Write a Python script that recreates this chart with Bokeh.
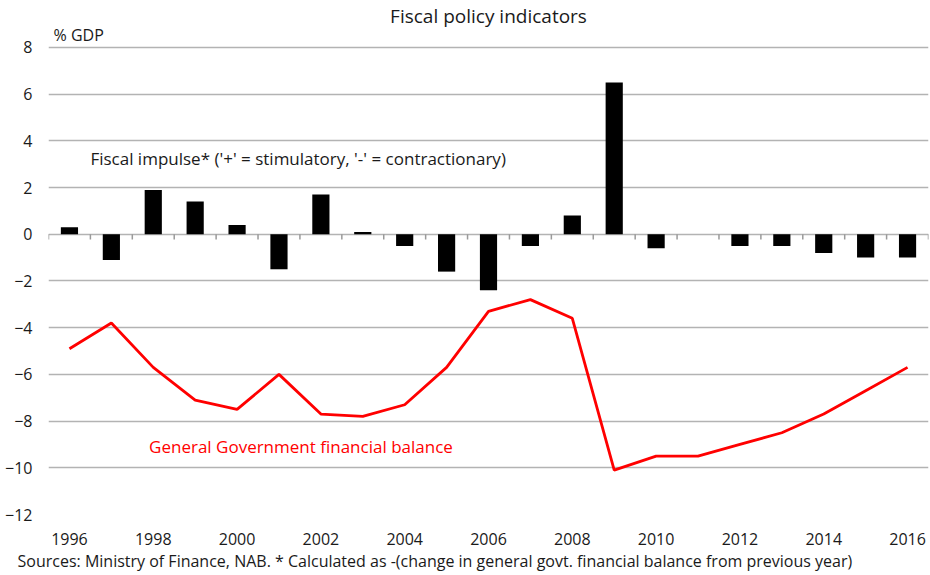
from bokeh.plotting import figure
from bokeh.models import Label, Title, FixedTicker, ColumnDataSource
from bokeh.embed import file_html
from bokeh.resources import INLINE

years = list(range(1996, 2017))
fiscal_impulse = [0.3, -1.1, 1.9, 1.4, 0.4, -1.5, 1.7, 0.1, -0.5, -1.6, -2.4,
                  -0.5, 0.8, 6.5, -0.6, 0.0, -0.5, -0.5, -0.8, -1.0, -1.0]
gov_balance = [-4.9, -3.8, -5.7, -7.1, -7.5, -6.0, -7.7, -7.8, -7.3, -5.7, -3.3,
               -2.8, -3.6, -10.1, -9.5, -9.5, -9.0, -8.5, -7.7, -6.7, -5.7]
x_tick_years = list(range(1996, 2017, 2))
y_ticks = list(range(-12, 9, 2))

FONT = "Open Sans"
TXT = "#1a1a1a"

p = figure(width=930, height=575, x_range=(years[0] - 0.5, years[-1] + 0.5),
           y_range=(-12, 8.81), output_backend="svg", toolbar_location=None,
           min_border_left=48, min_border_right=2, min_border_top=27,
           min_border_bottom=61)
p.outline_line_color = None
p.background_fill_color = "white"
p.border_fill_color = "white"

p.title.text = "Fiscal policy indicators"
p.title.align = "center"
p.title.text_font = FONT
p.title.text_font_size = "19px"
p.title.text_font_style = "normal"
p.title.text_color = TXT
p.title.offset = 0
p.title.standoff = 0

# grid
p.xgrid.grid_line_color = None
p.ygrid.ticker = FixedTicker(ticks=y_ticks)
p.ygrid.grid_line_color = "#b3b3b3"
p.ygrid.grid_line_width = 1.5

# axes
p.yaxis.ticker = FixedTicker(ticks=y_ticks)
p.yaxis.axis_line_color = None
p.yaxis.major_tick_line_color = None
p.yaxis.minor_tick_line_color = None
p.yaxis.major_tick_out = 0
p.yaxis.major_label_standoff = 16
p.yaxis.major_label_text_font = FONT
p.yaxis.major_label_text_font_size = "16px"
p.yaxis.major_label_text_color = TXT

p.xaxis.ticker = FixedTicker(ticks=x_tick_years)
p.xaxis.axis_line_color = None
p.xaxis.major_tick_line_color = None
p.xaxis.minor_tick_line_color = None
p.xaxis.major_tick_out = 0
p.xaxis.major_label_standoff = 18
p.xaxis.major_label_text_font = FONT
p.xaxis.major_label_text_font_size = "16px"
p.xaxis.major_label_text_color = TXT

# tick marks at category boundaries on the zero line
bounds = [y - 0.5 for y in years] + [years[-1] + 0.5]
p.segment(x0=bounds, x1=bounds, y0=[0] * len(bounds), y1=[-0.22] * len(bounds),
          line_color="#9a9a9a", line_width=1.5)

src = ColumnDataSource(dict(year=years, fi=fiscal_impulse, gb=gov_balance))
p.vbar(x="year", top="fi", bottom=0, width=0.41, source=src,
       fill_color="black", line_color=None)
p.line(x="year", y="gb", source=src, line_color="#ff0000", line_width=2.8)

p.add_layout(Label(x=1995.62, y=8, text="% GDP", text_font=FONT,
                   text_font_size="16px", text_color=TXT,
                   text_baseline="bottom", y_offset=1))
p.add_layout(Label(x=1996.5, y=3.26, text="Fiscal impulse* ('+' = stimulatory, '-' = contractionary)",
                   text_font=FONT, text_font_size="17px", text_color=TXT,
                   text_baseline="middle"))
p.add_layout(Label(x=1997.9, y=-9.09, text="General Government financial balance",
                   text_font=FONT, text_font_size="17px", text_color="#ff0000",
                   text_baseline="middle"))

src_title = Title(text="Sources: Ministry of Finance, NAB. * Calculated as -(change in general govt. financial balance from previous year)",
                  text_font=FONT, text_font_size="16px", text_font_style="normal",
                  text_color=TXT, align="left", offset=-31, standoff=0)
p.add_layout(src_title, "below")

open("out.html", "w").write(file_html(p, INLINE))
